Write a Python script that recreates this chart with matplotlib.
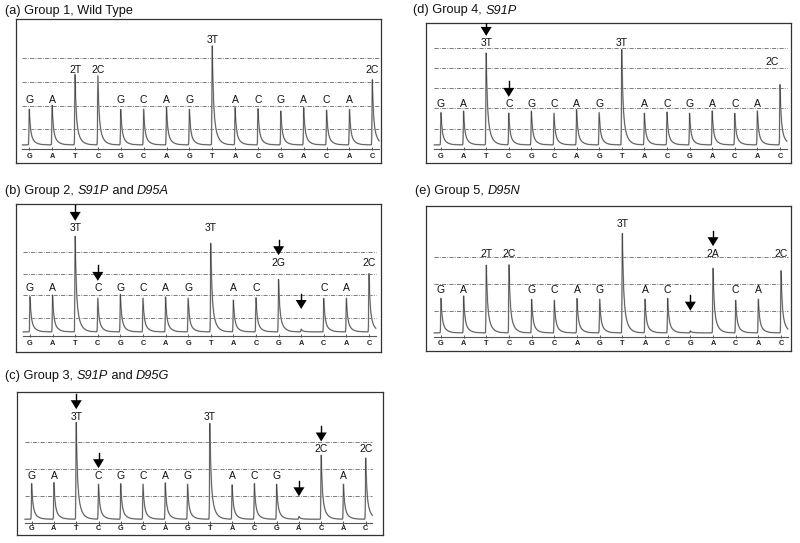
#!/usr/bin/env python3
"""
Pyrograms of the five genotype groups (S91P / D95 region).
"""

import numpy as np
import matplotlib.pyplot as plt

plt.rcParams['font.family'] = ['Liberation Sans', 'DejaVu Sans']

# nucleotide dispensation order, same for every run
dispensation = ["G", "A", "T", "C", "G", "C", "A", "G", "T", "A", "C", "G", "A", "C", "A", "C"]

# peak heights (signal units)
heights_g1 = [35.7, 39.7, 70.7, 69.0, 35.7, 35.7, 38.3, 35.7, 100.0, 37.3, 36.3, 34.0, 37.3, 35.0, 35.7, 65.7]
heights_g2 = [35.3, 37.0, 96.0, 33.7, 37.7, 33.7, 35.3, 33.7, 89.3, 31.7, 34.3, 52.7, 2.7, 33.7, 33.7, 58.7]
heights_g3 = [35.7, 36.7, 97.3, 35.0, 35.7, 35.0, 36.7, 35.0, 96.7, 34.3, 35.7, 35.0, 2.7, 64.3, 35.0, 61.7]
heights_g4 = [32.3, 34.0, 92.3, 31.7, 34.0, 31.7, 35.7, 32.3, 96.3, 31.7, 33.0, 31.7, 34.0, 31.7, 34.0, 60.7]
heights_g5 = [34.7, 37.0, 68.0, 68.0, 33.7, 32.7, 34.7, 33.7, 100.3, 33.7, 34.7, 2.0, 64.7, 32.7, 33.7, 62.7]

# base calls printed above the peaks ('' = no call)
calls_g1 = ["G", "A", "2T", "2C", "G", "C", "A", "G", "3T", "A", "C", "G", "A", "C", "A", "2C"]
calls_g2 = ["G", "A", "3T", "C", "G", "C", "A", "G", "3T", "A", "C", "2G", "", "C", "A", "2C"]
calls_g3 = ["G", "A", "3T", "C", "G", "C", "A", "G", "3T", "A", "C", "G", "", "2C", "A", "2C"]
calls_g4 = ["G", "A", "3T", "C", "G", "C", "A", "G", "3T", "A", "C", "G", "A", "C", "A", "2C"]
calls_g5 = ["G", "A", "2T", "2C", "G", "C", "A", "G", "3T", "A", "C", "", "2A", "C", "A", "2C"]

# dispensations flagged with an arrow (mutation sites)
arrows_g1 = []
arrows_g2 = [2, 3, 11, 12]
arrows_g3 = [2, 3, 12, 13]
arrows_g4 = [2, 3]
arrows_g5 = [11, 12]

# horizontal reference lines of each pyrogram
grid_g1 = [16.4, 39.4, 63.4, 87.4]
grid_g2 = [14.3, 37.3, 58.7, 81.0]
grid_g3 = [23.7, 51.0, 78.3]
grid_g4 = [17.0, 37.3, 57.3, 77.3, 98.0]
grid_g5 = [22.4, 49.4, 76.4]

# panel titles as (text, italic) pieces
title_g1 = [("(a) Group 1, Wild Type", False)]
title_g2 = [("(b) Group 2, ", False), ("S91P", True), (" and ", False), ("D95A", True)]
title_g3 = [("(c) Group 3, ", False), ("S91P", True), (" and ", False), ("D95G", True)]
title_g4 = [("(d) Group 4, ", False), ("S91P", True)]
title_g5 = [("(e) Group 5, ", False), ("D95N", True)]

W, H = 800, 543

# layout in pixels: box (x0, y0, x1, y1), baseline y, first peak x, peak spacing,
# label rows by homopolymer length, title anchor
panels = [
    dict(title=title_g1, tpos=(5, 14),
         box=(16, 19, 381, 163.3), base=145.7, x0=29.3, dx=22.87,
         rows={1: 46, 2: 76, 3: 106},
         h=heights_g1, calls=calls_g1, arrows=arrows_g1, grid=grid_g1),
    dict(title=title_g2, tpos=(5, 194),
         box=(16, 204, 381, 351.7), base=332.7, x0=30, dx=22.6,
         rows={1: 44.3, 2: 70, 3: 104.3},
         h=heights_g2, calls=calls_g2, arrows=arrows_g2, grid=grid_g2),
    dict(title=title_g3, tpos=(5, 379),
         box=(17.3, 391.7, 382.7, 535), base=520, x0=31.7, dx=22.27,
         rows={1: 44.3, 2: 71, 3: 103.3},
         h=heights_g3, calls=calls_g3, arrows=arrows_g3, grid=grid_g3),
    dict(title=title_g4, tpos=(413, 13.5),
         box=(426, 22.7, 791, 163.3), base=145.7, x0=441, dx=22.6,
         rows={1: 41.3, 2: 84, 3: 102.3}, shift={15: -0.37},
         h=heights_g4, calls=calls_g4, arrows=arrows_g4, grid=grid_g4),
    dict(title=title_g5, tpos=(415, 194),
         box=(426, 205.7, 791, 350.7), base=333.7, x0=441, dx=22.67,
         rows={1: 43.7, 2: 80, 3: 109.3},
         h=heights_g5, calls=calls_g5, arrows=arrows_g5, grid=grid_g5),
]


def peak_shape(d):
    # fast rise, exponential decay after the dispensation
    rise = np.exp(-(d / 0.018) ** 2)
    dd = np.clip(d, 0, None)
    tail = 0.6 * np.exp(-dd / 0.045) + 0.4 * np.exp(-dd / 0.16)
    return np.where(d < 0, rise, tail)


fig = plt.figure(figsize=(W / 100, H / 100), dpi=100)
renderer = fig.canvas.get_renderer()

for p in panels:
    bx0, by0, bx1, by1 = p["box"]
    ax = fig.add_axes([bx0 / W, 1 - by1 / H, (bx1 - bx0) / W, (by1 - by0) / H])
    xlo = (bx0 - p["x0"]) / p["dx"]
    xhi = (bx1 - p["x0"]) / p["dx"]
    ylo = p["base"] - by1
    yhi = p["base"] - by0
    ax.set_xlim(xlo, xhi)
    ax.set_ylim(ylo, yhi)
    ax.set_xticks([])
    ax.set_yticks([])
    for s in ax.spines.values():
        s.set_linewidth(0.9)
        s.set_color('#333333')

    # reference lines
    for g in p["grid"]:
        ax.plot([-0.3, 15.3], [g, g], color='#666666', lw=0.6,
                linestyle=(0, (5, 1.5, 1, 1.5)), zorder=1)

    # trace
    pos = np.arange(len(dispensation))
    xs = np.linspace(-0.3, 15.3, 6000)
    ys = np.zeros_like(xs) + 0.8
    for i, hgt in zip(pos, p["h"]):
        ys += hgt * peak_shape(xs - i)
    ax.plot(xs, ys, color='#c4c4c4', lw=1.2, zorder=2, solid_joinstyle='round')
    ax.plot(xs, ys, color='#4a4a4a', lw=0.55, zorder=3)

    # axis line with ticks, dispensation letters
    ax.plot([-0.3, 15.3], [-3, -3], color='#555555', lw=0.8, zorder=3)
    ax.vlines(pos, -4.5, -1.2, color='#555555', lw=0.7, zorder=3)
    ly = (-3 + ylo) / 2
    for i, nt in zip(pos, dispensation):
        ax.text(i, ly, nt, ha='center', va='center', fontsize=5.3, fontweight='bold', color='#222222')

    # base calls
    shift = p.get("shift", {})
    label_y = {}
    for i, c in zip(pos, p["calls"]):
        if not c:
            continue
        n = int(c[0]) if c[0].isdigit() else 1
        label_y[i] = p["rows"][n]
        ax.text(i + shift.get(i, 0), p["rows"][n], c, ha='center', va='center',
                fontsize=7.5, color='#111111', zorder=5)

    # arrows
    for i in p["arrows"]:
        tip = label_y[i] + 7.5 if i in label_y else p["h"][i] + 21
        head = tip + 9
        top = tip + 15.5
        ax.plot([i, i], [head, top], color='black', lw=1.0, zorder=6)
        hw = 5.5 / p["dx"]
        ax.fill([i - hw, i + hw, i], [head, head, tip], color='black', lw=0, zorder=6)

    # title, plain and italic pieces laid out side by side
    tx = p["tpos"][0]
    for piece, it in p["title"]:
        t = fig.text(tx / W, 1 - p["tpos"][1] / H, piece, ha='left', va='baseline',
                     fontsize=9.2, color='#111111', style='italic' if it else 'normal')
        tx += t.get_window_extent(renderer).width

fig.savefig('out.png', dpi=100)
